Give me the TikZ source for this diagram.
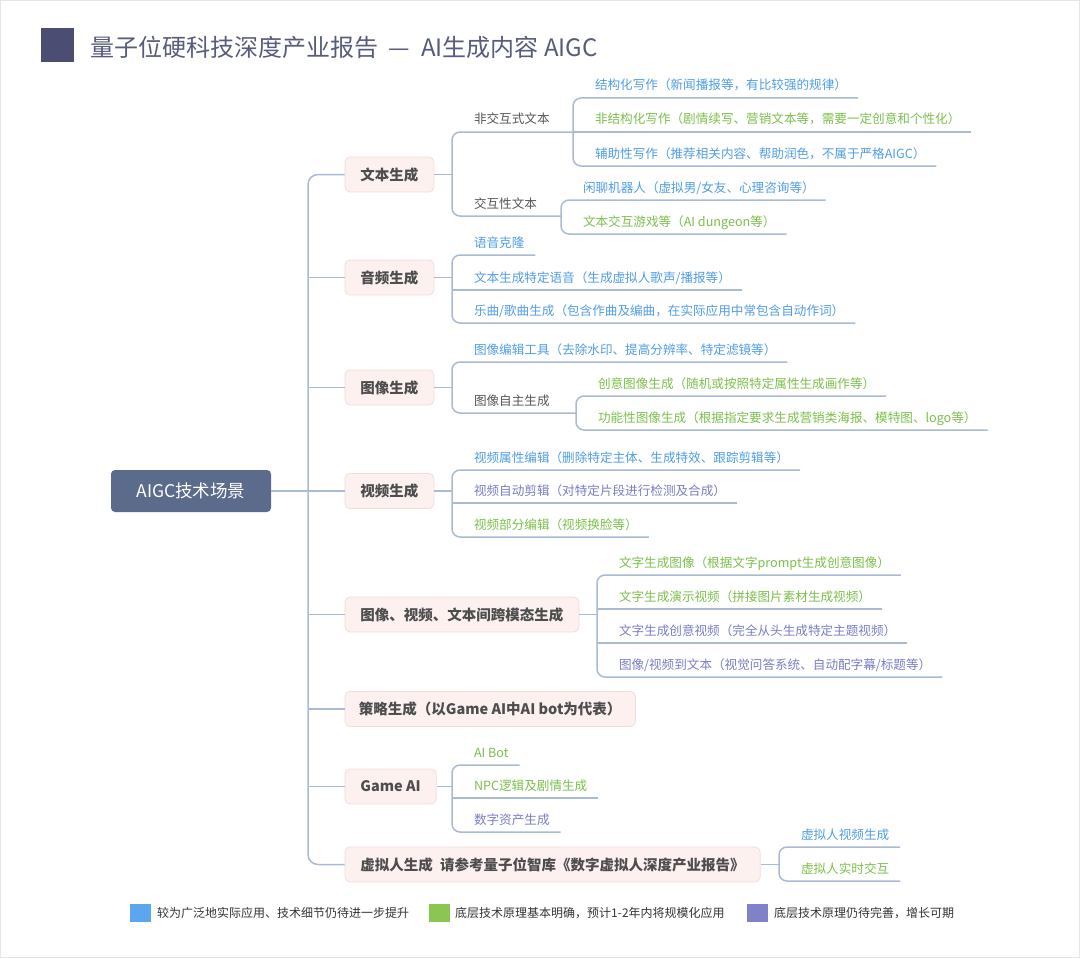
\documentclass[tikz,border=0pt]{standalone}
\usepackage{fontspec}
\setmainfont{Noto Sans CJK SC}
\definecolor{connc}{HTML}{A9BBD2}
\definecolor{catfill}{HTML}{FCF1EF}
\definecolor{catdraw}{HTML}{F3DCD8}
\definecolor{cattext}{HTML}{4D4D4D}
\definecolor{rootc}{HTML}{5B6B8B}
\definecolor{blueT}{HTML}{4F9DE6}
\definecolor{greenT}{HTML}{7BBF4A}
\definecolor{purpT}{HTML}{7A7CC6}
\definecolor{grayT}{HTML}{555555}
\definecolor{legblue}{HTML}{5AA7F0}
\definecolor{leggreen}{HTML}{8BC653}
\definecolor{legpurp}{HTML}{7F82C9}
\definecolor{legtext}{HTML}{333333}
\definecolor{titlesq}{HTML}{4B4D73}
\definecolor{titlec}{HTML}{585C7C}
\definecolor{framec}{HTML}{E6E6E6}
\begin{document}
\begin{tikzpicture}[x=1pt,y=-1pt,
  conn/.style={draw=connc, line width=1.5pt},
  cat/.style={fill=catfill, draw=catdraw, line width=0.8pt, rounded corners=5pt,
    minimum height=35pt, inner xsep=15.5pt, anchor=west, text=cattext,
    font=\fontsize{14.5}{16}\selectfont\bfseries},
  leaf/.style={anchor=south west, inner xsep=11pt, inner ysep=8pt, text depth=0pt,
    text height=9pt, outer sep=0pt, font=\fontsize{12.6}{15}\selectfont},
  bl/.style={leaf, text=blueT},
  gr/.style={leaf, text=greenT},
  pu/.style={leaf, text=purpT},
  gy/.style={leaf, text=grayT},
  legsq/.style={minimum width=21pt, minimum height=18pt, inner sep=0pt, anchor=west},
  legtx/.style={anchor=west, inner sep=0pt, text=legtext, font=\fontsize{12}{14}\selectfont},
]
\useasboundingbox (0,0) rectangle (1080,958);
\draw[framec, line width=1pt] (0.5,0.5) rectangle (1079.5,957.5);

% title
\node[fill=titlesq, minimum width=33pt, minimum height=34pt, inner sep=0pt] (sq) at (57.5,45) {};
\node[anchor=west, inner sep=0pt, text=titlec, font=\fontsize{24}{27}\selectfont] (title) at (90,47) {量子位硬科技深度产业报告\hspace{0.45em}—\hspace{0.45em}AI生成内容 AIGC};

% coordinates of trunk and brackets
\coordinate (T) at (308,0);
\coordinate (B) at (452,0);
\coordinate (Bw1) at (573,0);
\coordinate (Bw2) at (561,0);
\coordinate (Bi2) at (576,0);
\coordinate (Bc) at (597,0);
\coordinate (Bx) at (779,0);

% root
\node[fill=rootc, rounded corners=4pt, minimum width=160pt, minimum height=42pt, text=white,
  font=\fontsize{17.5}{20}\selectfont] (root) at (191,491) {AIGC技术场景};

% categories
\node[cat] (wen) at (344.5,174.5) {文本生成};
\node[cat] (yin) at (344.5,277.5) {音频生成};
\node[cat] (tu) at (344.5,387.5) {图像生成};
\node[cat] (shi) at (344.5,491) {视频生成};
\node[cat] (kua) at (344.5,614.5) {图像、视频、文本间跨模态生成};
\node[cat, inner xsep=14pt] (ce) at (344.5,709) {策略生成（以Game AI中AI bot为代表）};
\node[cat, minimum width=88pt] (game) at (344.5,786.5) {Game AI};
\node[cat] (xu) at (344.5,864.5) {虚拟人生成\hspace{0.5em}请参考量子位智库《数字虚拟人深度产业报告》};

% trunk
\draw[conn] (root.east) -- (root.east -| T);
\draw[conn, rounded corners=10pt] (wen.west) -- (wen.west -| T) -- (xu.west -| T) -- (xu.west);
\draw[conn] (yin.west -| T) -- (yin.west);
\draw[conn] (tu.west -| T) -- (tu.west);
\draw[conn] (shi.west -| T) -- (shi.west);
\draw[conn] (kua.west -| T) -- (kua.west);
\draw[conn] (ce.west -| T) -- (ce.west);
\draw[conn] (game.west -| T) -- (game.west);

% ---- 文本生成
\node[gy] (fjh) at (463,132) {非交互式文本};
\node[gy] (jh) at (463,216) {交互性文本};
\node[bl] (w1) at (584,98) {结构化写作（新闻播报等，有比较强的规律）};
\node[gr] (w2) at (584,132) {非结构化写作（剧情续写、营销文本等，需要一定创意和个性化）};
\node[bl] (w3) at (584,166) {辅助性写作（推荐相关内容、帮助润色，不属于严格AIGC）};
\node[bl] (w4) at (572,200) {闲聊机器人（虚拟男/女友、心理咨询等）};
\node[gr] (w5) at (572,234) {文本交互游戏等（AI dungeon等）};
\draw[conn] (wen.east) -- (wen.east -| B);
\draw[conn, rounded corners=8pt] (fjh.south -| Bw1) -- (fjh.south west -| B) -- (jh.south west -| B) -- (jh.south -| Bw2);
\draw[conn, rounded corners=8pt] (w1.south east) -- (w1.south west -| Bw1) -- (w3.south west -| Bw1) -- (w3.south east);
\draw[conn] (w2.south west -| Bw1) -- (w2.south east);
\draw[conn, rounded corners=8pt] (w4.south east) -- (w4.south west -| Bw2) -- (w5.south west -| Bw2) -- (w5.south east);

% ---- 音频生成
\node[bl] (a1) at (463,255) {语音克隆};
\node[bl] (a2) at (463,290) {文本生成特定语音（生成虚拟人歌声/播报等）};
\node[bl] (a3) at (463,323) {乐曲/歌曲生成（包含作曲及编曲，在实际应用中常包含自动作词）};
\draw[conn] (yin.east) -- (yin.east -| B);
\draw[conn, rounded corners=8pt] (a1.south east) -- (a1.south west -| B) -- (a3.south west -| B) -- (a3.south east);
\draw[conn] (a2.south west -| B) -- (a2.south east);

% ---- 图像生成
\node[bl] (t1) at (463,362) {图像编辑工具（去除水印、提高分辨率、特定滤镜等）};
\node[gy] (tz) at (463,413) {图像自主生成};
\node[gr] (t2) at (587,396) {创意图像生成（随机或按照特定属性生成画作等）};
\node[gr] (t3) at (587,430) {功能性图像生成（根据指定要求生成营销类海报、模特图、logo等）};
\draw[conn] (tu.east) -- (tu.east -| B);
\draw[conn, rounded corners=8pt] (t1.south east) -- (t1.south west -| B) -- (tz.south west -| B) -- (tz.south -| Bi2);
\draw[conn, rounded corners=8pt] (t2.south east) -- (t2.south west -| Bi2) -- (t3.south west -| Bi2) -- (t3.south east);

% ---- 视频生成
\node[bl] (v1) at (463,470) {视频属性编辑（删除特定主体、生成特效、跟踪剪辑等）};
\node[pu] (v2) at (463,503) {视频自动剪辑（对特定片段进行检测及合成）};
\node[gr] (v3) at (463,537) {视频部分编辑（视频换脸等）};
\draw[conn] (shi.east) -- (shi.east -| B);
\draw[conn, rounded corners=8pt] (v1.south east) -- (v1.south west -| B) -- (v3.south west -| B) -- (v3.south east);
\draw[conn] (v2.south west -| B) -- (v2.south east);

% ---- 跨模态
\node[gr] (k1) at (608,575) {文字生成图像（根据文字prompt生成创意图像）};
\node[gr] (k2) at (608,609) {文字生成演示视频（拼接图片素材生成视频）};
\node[pu] (k3) at (608,643) {文字生成创意视频（完全从头生成特定主题视频）};
\node[pu] (k4) at (608,677) {图像/视频到文本（视觉问答系统、自动配字幕/标题等）};
\draw[conn] (kua.east) -- (kua.east -| Bc);
\draw[conn, rounded corners=8pt] (k1.south east) -- (k1.south west -| Bc) -- (k4.south west -| Bc) -- (k4.south east);
\draw[conn] (k2.south west -| Bc) -- (k2.south east);
\draw[conn] (k3.south west -| Bc) -- (k3.south east);

% ---- Game AI
\node[gr] (g1) at (463,765) {AI Bot};
\node[gr] (g2) at (463,798) {NPC逻辑及剧情生成};
\node[pu] (g3) at (463,832) {数字资产生成};
\draw[conn] (game.east) -- (game.east -| B);
\draw[conn, rounded corners=8pt] (g1.south east) -- (g1.south west -| B) -- (g3.south west -| B) -- (g3.south east);
\draw[conn] (g2.south west -| B) -- (g2.south east);

% ---- 虚拟人
\node[bl] (x1) at (790,847) {虚拟人视频生成};
\node[gr] (x2) at (790,881) {虚拟人实时交互};
\draw[conn] (xu.east) -- (xu.east -| Bx);
\draw[conn, rounded corners=8pt] (x1.south east) -- (x1.south west -| Bx) -- (x2.south west -| Bx) -- (x2.south east);

% ---- legend
\node[legsq, fill=legblue] (lb) at (130,913) {};
\node[legtx] (lbt) at (157,913) {较为广泛地实际应用、技术细节仍待进一步提升};
\node[legsq, fill=leggreen] (lg) at (429,913) {};
\node[legtx] (lgt) at (455,913) {底层技术原理基本明确，预计1-2年内将规模化应用};
\node[legsq, fill=legpurp] (lp) at (747,913) {};
\node[legtx] (lpt) at (774,913) {底层技术原理仍待完善，增长可期};
\end{tikzpicture}
\end{document}
